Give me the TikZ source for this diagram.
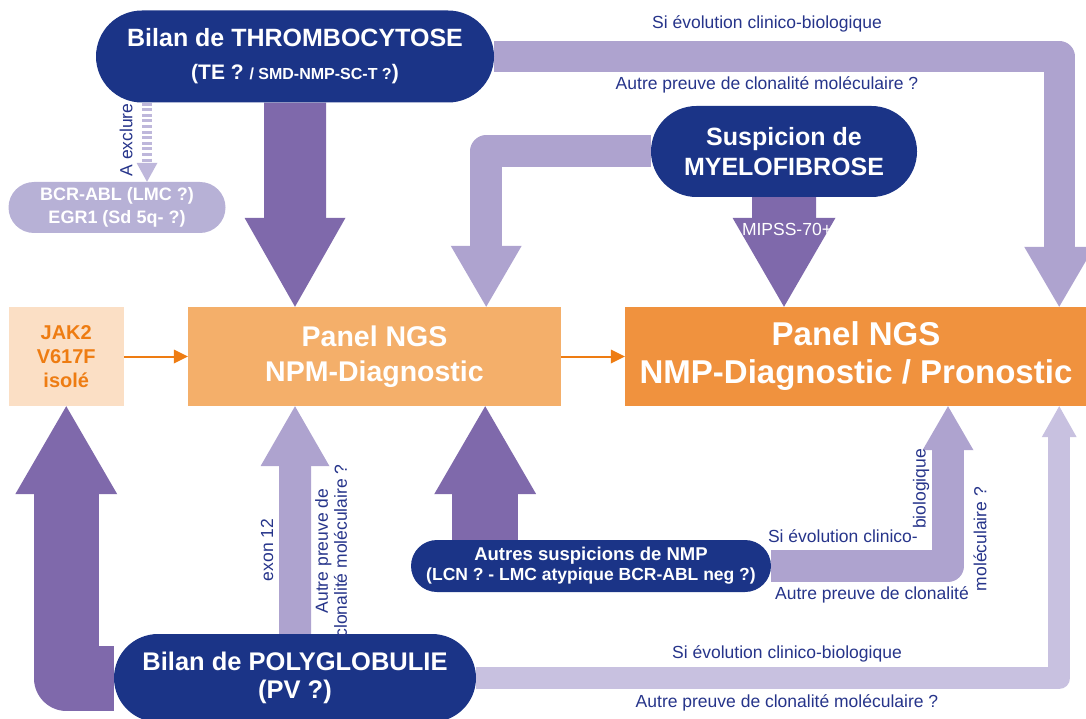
\documentclass[tikz,border=0pt]{standalone}
\usepackage{fontspec}
\setmainfont{Liberation Sans}
\usetikzlibrary{arrows.meta,shapes.misc,backgrounds}

\definecolor{navy}{RGB}{27,52,135}
\definecolor{mauve}{RGB}{127,105,171}
\definecolor{lilac}{RGB}{174,163,207}
\definecolor{palelilac}{RGB}{200,193,224}
\definecolor{exclpill}{RGB}{183,177,214}
\definecolor{excldash}{RGB}{190,183,219}
\definecolor{nmporange}{RGB}{240,146,62}
\definecolor{npmorange}{RGB}{244,175,106}
\definecolor{jakfill}{RGB}{251,223,197}
\definecolor{jaktext}{RGB}{238,124,18}
\definecolor{labelblue}{RGB}{38,52,138}

\newcommand{\setpx}[2]{\fontsize{#1}{#2}\selectfont}

\begin{document}
\begin{tikzpicture}[x=1pt,y=-1pt,
    pill/.style={rounded rectangle,fill=navy,text=white,inner sep=0pt,align=center},
    panel/.style={rectangle,inner sep=0pt,align=center},
    lbl/.style={text=labelblue,inner sep=0pt,font=\setpx{17.5}{19}},
    fat/.style={draw=#1,line join=round},
    headed/.style 2 args={-{Triangle[width=#1,length=#2,line width=0pt]}}]
    \useasboundingbox (0,0) rectangle (1086,719);

    \node at (295,56.5) [pill,minimum width=398,minimum height=92,font=\bfseries\setpx{25}{33}]
      (thrombo) {Bilan de THROMBOCYTOSE\\
      \setpx{21}{24}(TE ? {\setpx{16}{24}/ SMD-NMP-SC-T ?})};
    \node at (784,151.5) [pill,minimum width=266,minimum height=91,font=\bfseries\setpx{25}{30}]
      (myelo) {Suspicion de\\MYELOFIBROSE};
    \node at (117,207.5) [pill,fill=exclpill,minimum width=217,minimum height=51,font=\bfseries\setpx{18}{23}]
      (bcr) {BCR-ABL (LMC ?)\\EGR1 (Sd 5q- ?)};
    \node at (66.25,356.5) [panel,fill=jakfill,text=jaktext,minimum width=115.5,minimum height=99,font=\bfseries\setpx{20}{24}]
      (jak) {JAK2\\V617F\\isolé};
    \node at (374.5,356.5) [panel,fill=npmorange,text=white,minimum width=373,minimum height=99,font=\bfseries\setpx{28.5}{35}]
      (npm) {Panel NGS\\NPM-Diagnostic};
    \node at (856,356.5) [panel,fill=nmporange,text=white,minimum width=462,minimum height=99,font=\bfseries\setpx{33}{38}]
      (nmp) {Panel NGS\\NMP-Diagnostic / Pronostic};
    \node at (591,566) [pill,minimum width=360,minimum height=52,font=\bfseries\setpx{18.5}{20}]
      (autres) {Autres suspicions de NMP\\
      \setpx{17.5}{20}(LCN ? - LMC atypique BCR-ABL neg ?)};
    \node at (295,678) [pill,minimum width=362,minimum height=88,font=\bfseries\setpx{25.5}{28}]
      (polyg) {Bilan de POLYGLOBULIE\\(PV ?)};

    % labels on the bars
    \node at (767,24) [lbl] (evolTop) {Si évolution clinico-biologique};
    \node at (767,85) [lbl] (preuveTop) {Autre preuve de clonalité moléculaire ?};
    \node at (126,140) [lbl,rotate=90] (exclure) {A exclure};
    \node at (787,229) [lbl,text=white] (mipss) {MIPSS-70+};
    \node at (267,550) [lbl,rotate=90] (exon) {exon 12};
    \node at (331,551) [lbl,rotate=90,align=center] (preuvePV) {Autre preuve de\\clonalité moléculaire ?};
    \node at (918,536) [lbl,anchor=east] (evolNMP) {Si évolution clinico-};
    \node at (921,489) [lbl,rotate=90] (bioNMP) {biologique};
    \node at (969,595) [lbl,anchor=east] (preuveNMP) {Autre preuve de clonalité};
    \node at (980,539) [lbl,rotate=90] (molNMP) {moléculaire ?};
    \node at (787,654) [lbl] (evolPV) {Si évolution clinico-biologique};
    \node at (787,703) [lbl] (preuvePVb) {Autre preuve de clonalité moléculaire ?};

    \begin{pgfonlayer}{background}
    \clip (0,0) rectangle (1086,719);
    \draw[fat=lilac,line width=31pt,headed={70pt}{60pt}]
      (thrombo) -| ([xshift=-28pt] nmp.north east);
    \draw[fat=lilac,line width=32pt,headed={71pt}{61pt}]
      (myelo) -| ([xshift=-75pt] npm.north east);
    \draw[fat=mauve,line width=62pt,headed={101pt}{89pt}]
      (thrombo) -- (thrombo |- npm.north);
    \draw[fat=mauve,line width=64pt,headed={103pt}{89pt}]
      (myelo) -- (myelo |- nmp.north);
    \draw[fat=excldash,line width=10pt,dash pattern=on 3pt off 2.6pt,headed={21pt}{19pt}]
      ([xshift=30pt] bcr.north |- thrombo.south) -- ([xshift=30pt] bcr.north);

    \draw[fat=jaktext,line width=2pt,headed={14pt}{14pt}] (jak.east) -- (npm.west);
    \draw[fat=jaktext,line width=2pt,headed={14pt}{14pt}] (npm.east) -- (nmp.west);

    \draw[fat=mauve,line width=65pt,headed={102pt}{88pt}]
      (polyg) -| (jak.south);
    \draw[fat=lilac,line width=32pt,headed={69pt}{60pt}]
      (polyg) -- (polyg |- npm.south);
    \draw[fat=mauve,line width=66pt,headed={102pt}{88pt}]
      ([xshift=-76pt] npm.south east |- autres) -- ([xshift=-76pt] npm.south east);
    \draw[fat=lilac,line width=32pt,headed={51pt}{44pt}]
      (autres) -| ([xshift=92pt] nmp.south);
    \draw[fat=palelilac,line width=22pt,headed={35pt}{31pt}]
      (polyg) -| ([xshift=-28pt] nmp.south east);
    \end{pgfonlayer}
\end{tikzpicture}
\end{document}
